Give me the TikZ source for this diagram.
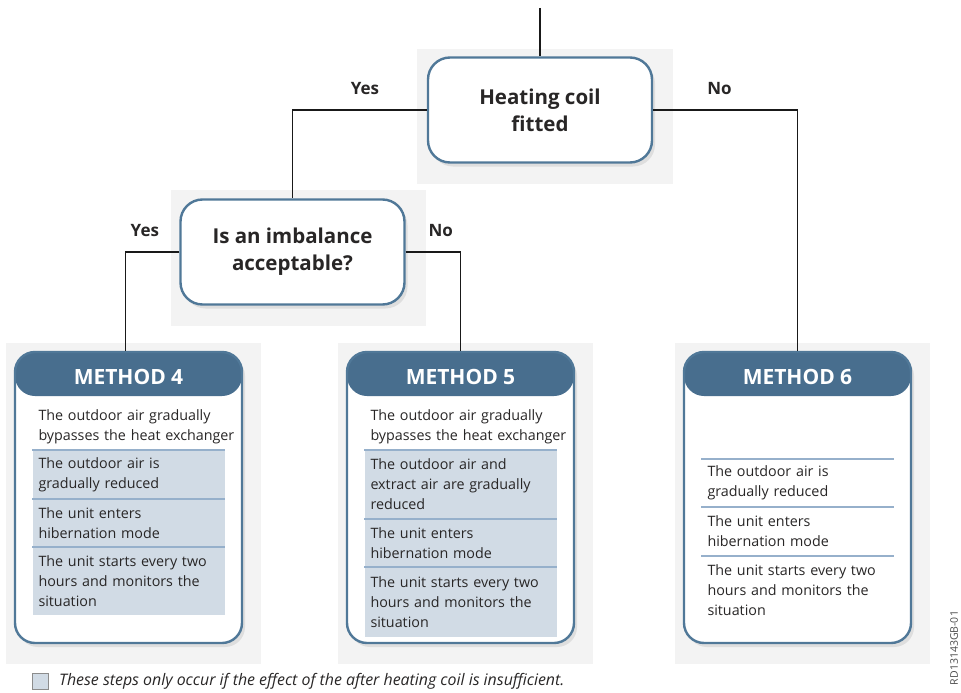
\documentclass[tikz,border=0pt]{standalone}
\usepackage{fontspec}
\setmainfont{Open Sans}
\usetikzlibrary{positioning,fit,backgrounds,shadows}
\definecolor{fmblue}{RGB}{72,110,142}
\definecolor{fmframe}{RGB}{80,120,152}
\definecolor{fmrow}{RGB}{209,219,229}
\definecolor{fmrule}{RGB}{150,176,203}
\definecolor{fmpanel}{RGB}{243,243,243}
\definecolor{fmtext}{RGB}{40,38,38}

\begin{document}
\begin{tikzpicture}[x=1pt,y=-1pt,
  decision/.style={draw=fmframe,line width=2.4pt,fill=white,rounded corners=22pt,
    minimum width=224pt,minimum height=105pt,align=center,text=fmtext,
    font=\fontsize{20.5}{27}\selectfont\bfseries,
    drop shadow={opacity=0.18,shadow xshift=3pt,shadow yshift=-4pt}},
  method/.style={draw=fmframe,line width=2.4pt,fill=white,rounded corners=20pt,
    minimum width=227pt,minimum height=291pt,
    drop shadow={opacity=0.18,shadow xshift=3pt,shadow yshift=-4pt},
    path picture={\fill[fmblue] (path picture bounding box.north west)
      rectangle ([yshift=-44pt]path picture bounding box.north east);}},
  hdr/.style={font=\fontsize{21}{24}\selectfont\bfseries,text=white},
  rowtext/.style={anchor=north,text width=180pt,inner xsep=6pt,inner ysep=0pt,
    minimum height=48pt,align=left,text=fmtext,font=\fontsize{14.3}{20}\selectfont},
  three/.style={minimum height=68pt},
  shaded/.style={rowtext,fill=fmrow},
  rule/.style={fmrule,line width=1.8pt},
  panel/.style={fill=fmpanel,draw=none,inner sep=0pt},
  link/.style={black!90,line width=1.8pt},
  answer/.style={font=\fontsize{17}{20}\selectfont\bfseries,text=fmtext}]
\useasboundingbox (0,0) rectangle (961,693);

% decisions
\node[decision] (coil) at (540,110) {Heating coil\\fitted};
\node[decision] (imbal) at (292.5,252) {Is an imbalance\\acceptable?};

% methods
\node[method] (m4) at (128.5,497.5) {};
\node[method] (m5) at (460.5,497.5) {};
\node[method] (m6) at (797.5,497.5) {};
\node[hdr] (m4h) at ([yshift=-26pt]m4.north) {METHOD 4};
\node[hdr] (m5h) at ([yshift=-26pt]m5.north) {METHOD 5};
\node[hdr] (m6h) at ([yshift=-26pt]m6.north) {METHOD 6};

\node[rowtext,minimum height=46pt] (m4a) at ([yshift=-53pt]m4.north) {The outdoor air gradually\\\mbox{bypasses the heat exchanger}};
\node[shaded,below=0pt of m4a] (m4b) {The outdoor air is\\gradually reduced};
\node[shaded,below=0pt of m4b] (m4c) {The unit enters\\hibernation mode};
\node[shaded,three,below=0pt of m4c] (m4d) {The unit starts every two\\hours and monitors the\\situation};

\node[rowtext,minimum height=46pt] (m5a) at ([yshift=-53pt]m5.north) {The outdoor air gradually\\\mbox{bypasses the heat exchanger}};
\node[shaded,three,below=0pt of m5a] (m5b) {The outdoor air and\\extract air are gradually\\reduced};
\node[shaded,below=0pt of m5b] (m5c) {The unit enters\\hibernation mode};
\node[shaded,three,minimum height=70pt,below=0pt of m5c] (m5d) {The unit starts every two\\hours and monitors the\\situation};

\node[rowtext] (m6b) at ([yshift=-108pt]m6.north) {The outdoor air is\\gradually reduced};
\node[rowtext,below=0pt of m6b] (m6c) {The unit enters\\hibernation mode};
\node[rowtext,three,below=0pt of m6c] (m6d) {The unit starts every two\\hours and monitors the\\situation};

\foreach \r in {m4b,m4c,m4d,m5b,m5c,m5d,m6b,m6c,m6d}
  \draw[rule] (\r.north west) -- (\r.north east);

% connectors
\coordinate (feed) at (540,8);
\draw[link] (feed) -- (coil.north);
\draw[link] (coil.west) -| node[answer,pos=0.23,above=11pt] (yes1) {Yes} (imbal.north);
\draw[link] (coil.east) -| node[answer,pos=0.23,above=11pt] (no1) {No} (m6.north);
\draw[link] (imbal.west) -| node[answer,pos=0.32,above=11pt] (yes2) {Yes} ([xshift=-3pt]m4.north);
\draw[link] (imbal.east) -| node[answer,pos=0.32,above=11pt] (no2) {No} (m5.north);

% key
\node[draw=black!45,fill=fmrow,line width=0.8pt,minimum size=16pt,inner sep=0pt] (key) at (40.5,681) {};
\node[right=10pt of key,inner sep=0pt,text=fmtext,font=\fontsize{15.9}{18}\selectfont\itshape] (keytext)
  {These steps only occur if the effect of the after heating coil is insufficient.};
\node[rotate=90,text=black!70,font=\fontsize{10.5}{12}\selectfont] (code) at (954,648) {RD13143GB-01};

% grey panels
\coordinate (coilnw) at ([shift={(-10,-7)}]coil.north west);
\coordinate (coilse) at ([shift={(20,20)}]coil.south east);
\coordinate (imbalnw) at ([shift={(-8,-8)}]imbal.north west);
\coordinate (imbalse) at ([shift={(20,20)}]imbal.south east);
\foreach \m in {m4,m5,m6}{
  \coordinate (\m nw) at ([shift={(-8,-8)}]\m.north west);
  \coordinate (\m se) at ([shift={(18,20)}]\m.south east);
}
\begin{scope}[on background layer]
\node[panel,fit=(coilnw)(coilse)] (coilbg) {};
\node[panel,fit=(imbalnw)(imbalse)] (imbalbg) {};
\foreach \m in {m4,m5,m6}
  \node[panel,fit=(\m nw)(\m se)] (\m bg) {};
\end{scope}
\end{tikzpicture}
\end{document}
